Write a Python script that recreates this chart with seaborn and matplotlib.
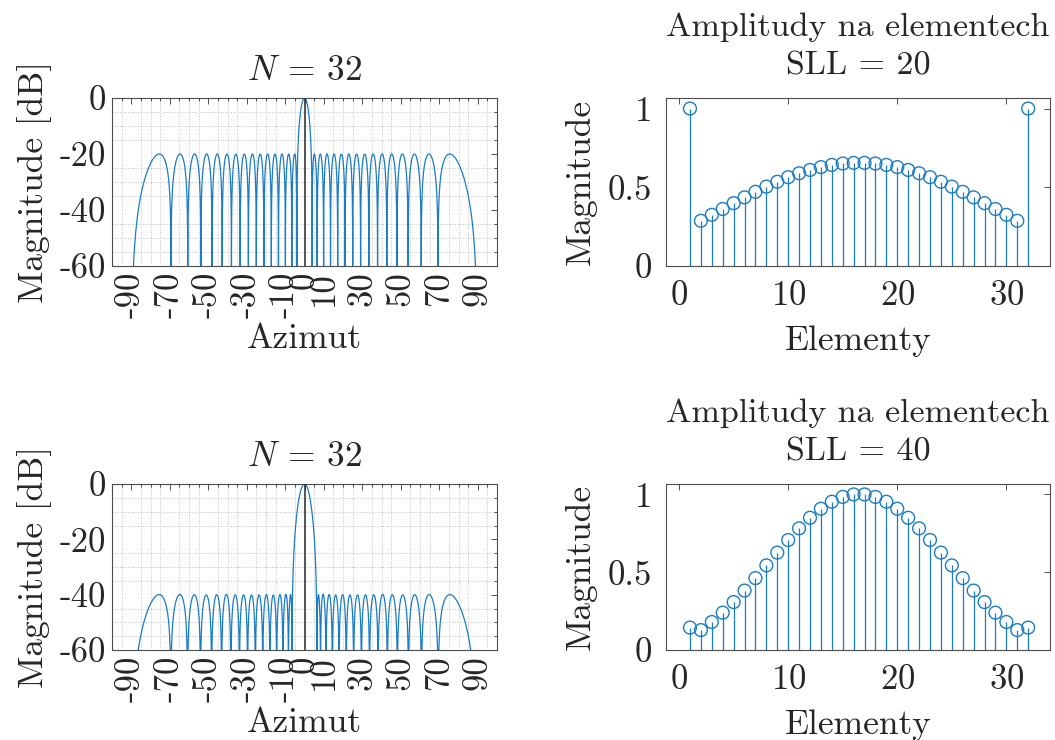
import numpy as np
import pandas as pd
import seaborn as sns
import matplotlib.pyplot as plt
from matplotlib.ticker import MultipleLocator


# amplitudes (element 1..32)
element_idx = list(range(1, 33))
weights_sll20 = [1.000, 0.287, 0.325, 0.362, 0.399, 0.436, 0.471, 0.504,
                 0.535, 0.564, 0.589, 0.610, 0.628, 0.642, 0.651, 0.655,
                 0.655, 0.651, 0.642, 0.628, 0.610, 0.589, 0.564, 0.535,
                 0.504, 0.471, 0.436, 0.399, 0.362, 0.325, 0.287, 1.000]
weights_sll40 = [0.144, 0.128, 0.180, 0.240, 0.308, 0.382, 0.462, 0.544,
                 0.626, 0.707, 0.782, 0.850, 0.908, 0.953, 0.984, 1.000,
                 1.000, 0.984, 0.953, 0.908, 0.850, 0.782, 0.707, 0.626,
                 0.544, 0.462, 0.382, 0.308, 0.240, 0.180, 0.128, 0.144]
sll_values = [20, 40]

azimuth_ticks = [-90, -70, -50, -30, -10, 0, 10, 30, 50, 70, 90]
db_ticks = [0, -20, -40, -60]
amp_ticks = [0, 0.5, 1]
element_ticks = [0, 10, 20, 30]

BLUE = '#1a7cc4'
AXIS_COLOR = '#4d4d4d'
TEXT_SIZE = 25.5
TITLE_SIZE = 24.5
TICK_SIZE = 25


def array_pattern(weights, theta_deg):
    # array factor of a lambda/2 spaced line array, normalised to the main beam
    w = np.asarray(weights)
    n = np.arange(len(w)) - (len(w) - 1) / 2
    psi = np.pi * np.sin(np.deg2rad(theta_deg))
    af = np.abs(np.cos(np.outer(psi, n)) @ w)
    af = af / af.max()
    return 20 * np.log10(np.maximum(af, 1e-9))


def style_axes(ax, tick_pad=4):
    for side in ax.spines.values():
        side.set_color(AXIS_COLOR)
        side.set_linewidth(0.8)
    ax.tick_params(which='both', direction='in', top=True, right=True,
                   color=AXIS_COLOR, width=0.7, labelcolor='#262626')
    ax.tick_params(which='major', length=4, labelsize=TICK_SIZE, pad=tick_pad)
    ax.tick_params(which='minor', length=2)


def plot_pattern(ax, weights):
    theta = np.linspace(-90, 90, 36001)
    df = pd.DataFrame({'theta': theta, 'mag': array_pattern(weights, theta)})
    sns.lineplot(data=df, x='theta', y='mag', ax=ax, color=BLUE, lw=0.9,
                 estimator=None, sort=False)
    ax.axvline(0, color='#262626', lw=1.1, zorder=3)
    ax.set_xlim(-100, 100)
    ax.set_ylim(-60, 0)
    ax.set_xticks(azimuth_ticks)
    ax.set_xticklabels([str(t) for t in azimuth_ticks], rotation=90)
    ax.set_yticks(db_ticks)
    ax.set_yticklabels([str(t) for t in db_ticks])
    ax.xaxis.set_minor_locator(MultipleLocator(5))
    ax.yaxis.set_minor_locator(MultipleLocator(5))
    ax.grid(which='minor', color='#c0c0c0', ls=':', lw=0.7)
    ax.grid(which='major', visible=False)
    ax.set_axisbelow(True)
    ax.set_xlabel('Azimut', fontsize=TEXT_SIZE, labelpad=4)
    ax.set_ylabel('Magnitude [dB]', fontsize=TEXT_SIZE, labelpad=6)
    ax.set_title('$N$ = 32', fontsize=TEXT_SIZE, pad=13)
    style_axes(ax)


def plot_weights(ax, weights, sll):
    ax.vlines(element_idx, 0, weights, color=BLUE, lw=0.9)
    sns.scatterplot(x=element_idx, y=weights, ax=ax, marker='o', s=85,
                    facecolor='none', edgecolor=BLUE, linewidth=1.0, zorder=3)
    ax.set_xlim(-1.2, 34)
    ax.set_ylim(0, 1.067)
    ax.set_xticks(element_ticks)
    ax.set_yticks(amp_ticks)
    ax.set_yticklabels(['0', '0.5', '1'])
    ax.set_xlabel('Elementy', fontsize=TEXT_SIZE, labelpad=10)
    ax.set_ylabel('Magnitude', fontsize=TEXT_SIZE, labelpad=8)
    ax.set_title('Amplitudy na elementech\nSLL = %d' % sll, fontsize=TITLE_SIZE,
                 pad=17, linespacing=1.4)
    style_axes(ax, tick_pad=10)


sns.set_theme(style='white')
plt.rcParams['font.family'] = ['cmr10', 'DejaVu Serif']
plt.rcParams['mathtext.fontset'] = 'cm'
plt.rcParams['axes.unicode_minus'] = False
plt.rcParams['axes.formatter.use_mathtext'] = True

fig = plt.figure(figsize=(10.55, 7.40), dpi=100)
W, H = 1055, 740
ax_tl = fig.add_axes([112 / W, (H - 266) / H, 385 / W, 168 / H])
ax_tr = fig.add_axes([666 / W, (H - 266) / H, 384 / W, 168 / H])
ax_bl = fig.add_axes([112 / W, (H - 650) / H, 385 / W, 166 / H])
ax_br = fig.add_axes([666 / W, (H - 650) / H, 384 / W, 166 / H])

plot_pattern(ax_tl, weights_sll20)
plot_weights(ax_tr, weights_sll20, sll_values[0])
plot_pattern(ax_bl, weights_sll40)
plot_weights(ax_br, weights_sll40, sll_values[1])

fig.savefig('out.png', dpi=100, facecolor='white')
